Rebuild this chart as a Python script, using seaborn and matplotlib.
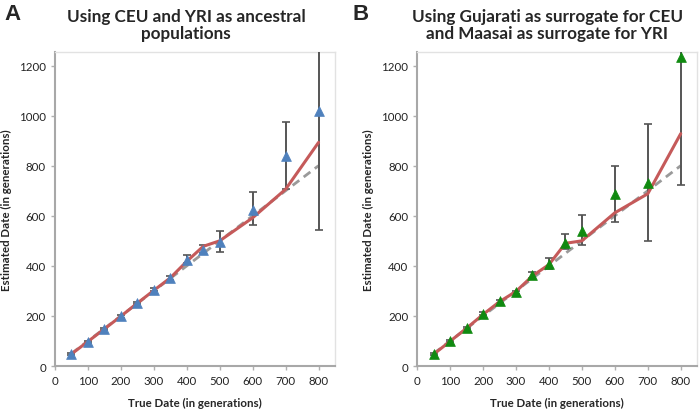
import seaborn as sns
import matplotlib.pyplot as plt
import pandas as pd

# datos
true_date = [50, 100, 150, 200, 250, 300, 350, 400, 450, 500, 600, 700, 800]

# Panel A: CEU y YRI
mean_A = [47, 96, 146, 198, 252, 304, 351, 422, 465, 497, 624, 837, 1017]
line_A = [48, 98, 148, 199, 251, 302, 352, 418, 478, 500, 592, 706, 893]
low_A = [42, 92, 142, 193, 247, 298, 343, 410, 450, 455, 564, 706, 545]
high_A = [52, 101, 151, 203, 257, 310, 360, 442, 484, 540, 695, 975, 1400]

# Panel B: Gujarati y Maasai
mean_B = [47, 99, 151, 208, 259, 295, 364, 408, 490, 541, 688, 731, 1234]
line_B = [47, 99, 151, 206, 257, 298, 360, 405, 490, 500, 612, 688, 928]
low_B = [42, 94, 146, 202, 253, 289, 352, 388, 468, 484, 577, 499, 724]
high_B = [52, 104, 157, 214, 265, 301, 374, 432, 527, 602, 800, 965, 1500]

titles = ["Using CEU and YRI as ancestral\npopulations",
          "Using Gujarati as surrogate for CEU\nand Maasai as surrogate for YRI"]
letters = ["A", "B"]

sns.set_style("white")
plt.rcParams['font.family'] = ['Lato', 'DejaVu Sans']

fig = plt.figure(figsize=(7, 4.14), dpi=100)
axA = fig.add_axes([0.0786, 0.1135, 0.400, 0.759])
axB = fig.add_axes([0.596, 0.1135, 0.400, 0.759])

paneles = [
    (axA, mean_A, line_A, low_A, high_A, "#4F81BD"),
    (axB, mean_B, line_B, low_B, high_B, "#108A10"),
]

for ax, media, linea, bajo, alto, color in paneles:
    df = pd.DataFrame({"true": true_date, "mean": media, "line": linea,
                       "low": bajo, "high": alto})
    # linea esperada y = x
    sns.lineplot(x="true", y="true", data=df, ax=ax, color="#9A9A9A",
                 linewidth=2, linestyle=(0, (3, 2)), zorder=2)
    ax.errorbar(df["true"], df["mean"],
                yerr=[df["mean"] - df["low"], df["high"] - df["mean"]],
                fmt="none", ecolor="#555555", elinewidth=1.4, capsize=3,
                capthick=1.2, zorder=3)
    sns.lineplot(x="true", y="line", data=df, ax=ax, color="#C55A5A",
                 linewidth=2.2, zorder=4)
    sns.scatterplot(x="true", y="mean", data=df, ax=ax, marker="^",
                    s=50, color=color, edgecolor=color, linewidth=0.5,
                    zorder=5, clip_on=False if color == "#108A10" else True)

    ax.set_xlim(0, 850)
    ax.set_ylim(0, 1255)
    ax.set_xticks(range(0, 801, 100))
    ax.set_yticks(range(0, 1201, 200))
    ax.tick_params(axis="both", labelsize=8.3, colors="#B0B0B0",
                   labelcolor="#222222", length=3, width=1, direction="out",
                   bottom=True, left=True)
    for lado in ["left", "bottom"]:
        ax.spines[lado].set_color("#A8A8A8")
        ax.spines[lado].set_linewidth(1.5)
    for lado in ["top", "right"]:
        ax.spines[lado].set_color("#E2E2E2")
        ax.spines[lado].set_linewidth(1)
    ax.set_xlabel("True Date (in generations)", fontsize=8.3,
                  fontweight="bold", labelpad=8)
    ax.set_ylabel("Estimated Date (in generations)", fontsize=8.3,
                  fontweight="bold", labelpad=5)

fig.text(0.266, 0.978, titles[0], ha="center", va="top", fontsize=12.3,
         fontweight="bold", linespacing=1.1)
fig.text(0.782, 0.978, titles[1], ha="center", va="top", fontsize=12.3,
         fontweight="bold", linespacing=1.1)
fig.text(0.007, 0.99, letters[0], ha="left", va="top", fontsize=16,
         fontweight="bold", family="Liberation Sans")
fig.text(0.503, 0.99, letters[1], ha="left", va="top", fontsize=16,
         fontweight="bold", family="Liberation Sans")

plt.savefig("out.png", dpi=100)
